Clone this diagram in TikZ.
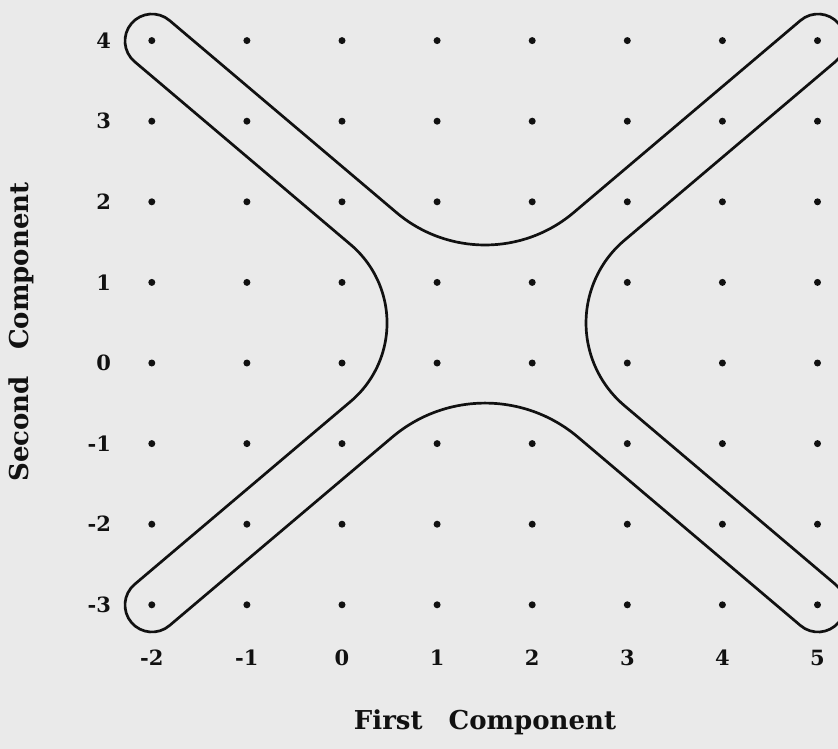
\documentclass[tikz,border=0pt]{standalone}
\usepackage{fontspec}
\setmainfont{DejaVu Serif}
\usetikzlibrary{positioning}
\definecolor{paper}{HTML}{EAEAEA}
\definecolor{ink}{HTML}{111111}
\tikzset{
  gdot/.style={circle, fill=ink, inner sep=0pt, minimum size=7pt},
  tick/.style={font=\fontsize{21}{25}\selectfont\bfseries, text=ink, inner sep=0pt},
  axtitle/.style={font=\fontsize{26}{31}\selectfont\bfseries, text=ink, inner sep=0pt},
  outline/.style={draw=ink, line width=2.7pt, line join=round},
}
\begin{document}
\begin{tikzpicture}[x=1pt, y=-1pt]
  % page
  \clip (0,0) rectangle (838,749);
  \fill[paper] (0,0) rectangle (838,749);
  % lattice points
  \foreach \i in {-2,...,5}
    \foreach \j in {-3,...,4}
      \node[gdot] (d\i\j) at ({342+95.1*\i}, {363-80.6*\j}) {};
  % axis numbers
  \foreach \j in {-3,...,4}
    \node[tick, left=37pt of d-2\j] (yl\j) {\j};
  \foreach \i in {-2,...,5}
    \node[tick, below=41pt of d\i-3] (xl\i) {\i};
  % axis titles
  \node[axtitle] (xtitle) at (485,722) {First\quad Component};
  \node[axtitle, rotate=90] (ytitle) at (21,332) {Second\quad Component};
  % the X-shaped region
  \draw[outline] (169.45,20.4) -- (396.4,212.5)
    arc[start angle=130.26, end angle=49.74, radius=137.2]   % top
    -- (800.55,20.4)
    arc[start angle=229.74, end angle=409.74, radius=27]     % upper right end
    -- (624.3,240.4)
    arc[start angle=229.74, end angle=130.26, radius=108.2]  % right
    -- (835.45,584.4)
    arc[start angle=-49.74, end angle=130.26, radius=27]     % lower right end
    -- (577.9,437.1)
    arc[start angle=-49.74, end angle=-130.26, radius=143.6] % bottom
    -- (169.45,625.6)
    arc[start angle=49.74, end angle=229.74, radius=27]      % lower left end
    -- (350.7,401.4)
    arc[start angle=49.74, end angle=-49.74, radius=102.7]   % left
    -- (134.55,61.6)
    arc[start angle=130.26, end angle=310.26, radius=27]     % upper left end
    -- cycle;
\end{tikzpicture}
\end{document}
